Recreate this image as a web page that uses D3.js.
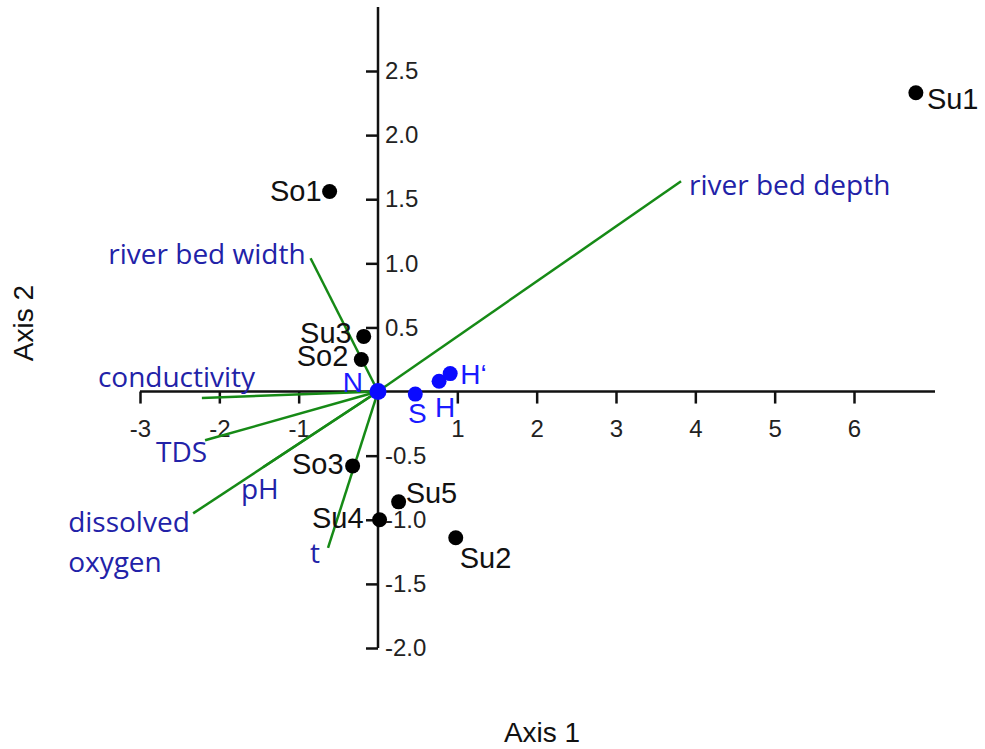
<!DOCTYPE html>
<html lang="en">
<head>
    <meta charset="UTF-8">
    <title>Ordination biplot</title>
    <style>
        body { margin: 0; overflow: hidden; background: #fff; }
        svg { display: block; }
        .tick text { font-family: "Liberation Sans", Arial, sans-serif; font-size: 24px; fill: #222; }
        .tick line, .axis-line { stroke: #111; stroke-width: 2.5; }
        .sample-label { font-family: "Liberation Sans", Arial, sans-serif; font-size: 29px; fill: #111; }
        .var-label { font-family: "Open Sans", sans-serif; font-size: 28px; fill: #2222a8; }
        .taxon-label { font-family: "Liberation Sans", Arial, sans-serif; font-size: 28px; fill: #1a1aff; }
        .axis-title { font-family: "Liberation Sans", Arial, sans-serif; font-size: 28px; fill: #111; }
    </style>
    <script src="https://d3js.org/d3.v7.min.js"></script>
</head>
<body>
<svg id="chart" width="985" height="749"></svg>
<script>
        const width = 985;
        const height = 749;
        const svg = d3.select("#chart");

        // sample sites (black points)
        const sampleNames = ["Su1", "So1", "Su3", "So2", "So3", "Su5", "Su4", "Su2"];
        const sampleX = [6.78, -0.61, -0.18, -0.21, -0.32, 0.26, 0.02, 0.98];
        const sampleY = [2.33, 1.56, 0.43, 0.25, -0.58, -0.86, -1.0, -1.14];

        // diversity indices (blue points)
        const indexNames = ["N", "S", "H", "H\u2018"];
        const indexX = [0, 0.47, 0.77, 0.91];
        const indexY = [0, -0.02, 0.08, 0.14];

        // environmental vectors (green lines from origin)
        const varNames = ["river bed depth", "river bed width", "conductivity", "TDS", "pH", "dissolved oxygen", "t"];
        const varX = [3.82, -0.85, -2.22, -2.18, -1.45, -2.33, -0.63];
        const varY = [1.64, 1.04, -0.05, -0.38, -0.59, -0.95, -1.22];

        const xTicks = [-3, -2, -1, 1, 2, 3, 4, 5, 6];
        const yTicks = [-2.0, -1.5, -1.0, -0.5, 0.5, 1.0, 1.5, 2.0, 2.5];

        const x = d3.scaleLinear().domain([-3, 6]).range([140, 854]);
        const y = d3.scaleLinear().domain([-2, 2.5]).range([648, 71]);

        // label placement (pixel offsets from the mark)
        const sampleLabelPos = {
            "Su1": [11, 16, "start"], "So1": [-8, 9, "end"], "Su3": [-12, 7, "end"],
            "So2": [-13, 6, "end"], "So3": [-9, 8, "end"], "Su5": [7, 1, "start"],
            "Su4": [-16, 8, "end"], "Su2": [4, 30, "start"]
        };
        const indexLabelPos = {
            "N": [-15, 0, "end"], "S": [2, 29, "middle"], "H": [6, 36, "middle"], "H\u2018": [10, 10, "start"]
        };
        const varLabelPos = {
            "river bed depth": [8, 14, "start"], "river bed width": [-5, 6, "end"],
            "conductivity": [-104, -11, "start"], "TDS": [2, 22, "end"],
            "pH": [-22, 32, "start"], "dissolved oxygen": [-125, 19, "start"], "t": [-8, 15, "end"]
        };

        // x axis
        const xAxis = svg.append("g")
            .attr("transform", `translate(0,${y(0)})`)
            .call(d3.axisBottom(x).tickValues(xTicks).tickSize(12).tickPadding(16)
                .tickFormat(d => String(d)));
        xAxis.select(".domain").remove();
        svg.append("line").attr("class", "axis-line")
            .attr("x1", x(-3)).attr("x2", 935)
            .attr("y1", y(0)).attr("y2", y(0));

        // y axis: ticks to the left, labels to the right
        const yAxis = svg.append("g")
            .attr("transform", `translate(${x(0)},0)`)
            .call(d3.axisRight(y).tickValues(yTicks).tickSizeInner(-12).tickSizeOuter(0).tickPadding(7)
                .tickFormat(d => d.toFixed(1)));
        yAxis.select(".domain").remove();
        svg.append("line").attr("class", "axis-line")
            .attr("x1", x(0)).attr("x2", x(0))
            .attr("y1", 7).attr("y2", y(-2));

        // vectors
        const vars = varNames.map((n, i) => ({ name: n, x: varX[i], y: varY[i] }));
        svg.selectAll(".vec")
            .data(vars)
            .enter().append("line")
            .attr("class", "vec")
            .attr("x1", x(0)).attr("y1", y(0))
            .attr("x2", d => x(d.x)).attr("y2", d => y(d.y))
            .attr("stroke", "#168a16")
            .attr("stroke-width", 2.5);

        vars.forEach(d => {
            const p = varLabelPos[d.name];
            const t = svg.append("text").attr("class", "var-label")
                .attr("x", x(d.x) + p[0]).attr("y", y(d.y) + p[1])
                .attr("text-anchor", p[2]);
            if (d.name === "dissolved oxygen") {
                t.append("tspan").attr("x", x(d.x) + p[0]).text("dissolved");
                t.append("tspan").attr("x", x(d.x) + p[0]).attr("dy", 40).text("oxygen");
            } else {
                t.text(d.name);
            }
        });

        // samples
        const samples = sampleNames.map((n, i) => ({ name: n, x: sampleX[i], y: sampleY[i] }));
        svg.selectAll(".sample")
            .data(samples)
            .enter().append("circle")
            .attr("class", "sample")
            .attr("cx", d => x(d.x)).attr("cy", d => y(d.y))
            .attr("r", 7.5)
            .attr("fill", "#000");
        svg.selectAll(".sample-label")
            .data(samples)
            .enter().append("text")
            .attr("class", "sample-label")
            .attr("x", d => x(d.x) + sampleLabelPos[d.name][0])
            .attr("y", d => y(d.y) + sampleLabelPos[d.name][1])
            .attr("text-anchor", d => sampleLabelPos[d.name][2])
            .text(d => d.name);

        // indices
        const indices = indexNames.map((n, i) => ({ name: n, x: indexX[i], y: indexY[i] }));
        svg.selectAll(".index")
            .data(indices)
            .enter().append("circle")
            .attr("class", "index")
            .attr("cx", d => x(d.x)).attr("cy", d => y(d.y))
            .attr("r", d => d.name === "N" ? 8.5 : 7.5)
            .attr("fill", "#0a0aff");
        svg.selectAll(".taxon-label")
            .data(indices)
            .enter().append("text")
            .attr("class", "taxon-label")
            .attr("x", d => x(d.x) + indexLabelPos[d.name][0])
            .attr("y", d => y(d.y) + indexLabelPos[d.name][1])
            .attr("text-anchor", d => indexLabelPos[d.name][2])
            .text(d => d.name);

        // axis titles
        svg.append("text").attr("class", "axis-title")
            .attr("x", 542).attr("y", 742)
            .attr("text-anchor", "middle")
            .text("Axis 1");
        svg.append("text").attr("class", "axis-title")
            .attr("transform", "translate(33,323) rotate(-90)")
            .attr("text-anchor", "middle")
            .text("Axis 2");
</script>
</body>
</html>
